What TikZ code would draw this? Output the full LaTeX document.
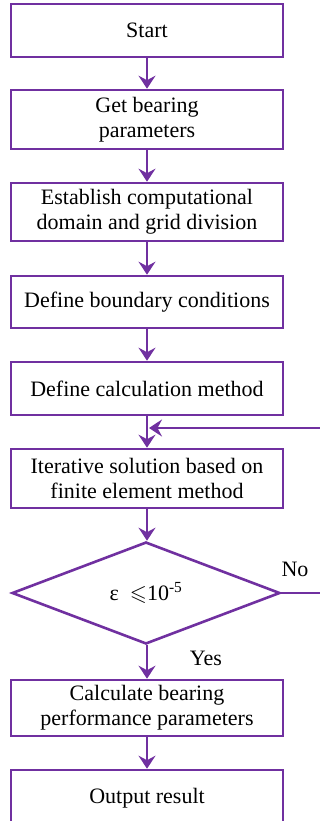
\documentclass[tikz,border=0pt]{standalone}
\usepackage{fontspec}
\setmainfont{Liberation Serif}
\usepackage{amssymb}
\usetikzlibrary{shapes.geometric,arrows.meta}
\definecolor{fpurple}{HTML}{7030A0}
\tikzset{
  box/.style={draw=fpurple, line width=2.6pt, rectangle, minimum width=272pt, inner sep=0pt, align=center, text=black, font=\fontsize{22}{25}\selectfont},
  dec/.style={draw=fpurple, line width=2.6pt, diamond, minimum width=268pt, minimum height=102pt, inner sep=0pt, aspect=2.6, font=\fontsize{22}{25}\selectfont},
  flow/.style={draw=fpurple, line width=2.6pt, -{Stealth[length=13pt, width=17pt, inset=4.5pt]}},
  lbl/.style={font=\fontsize{22}{25}\selectfont, inner sep=0pt}
}
\begin{document}
\begin{tikzpicture}[x=1pt, y=-1pt]
\useasboundingbox (0,0) rectangle (320,821);
\node[box, minimum height=53pt] (n1) at (147,30.5) {Start};
\node[box, minimum height=59pt] (n2) at (147,119.5) {Get bearing\\parameters};
\node[box, minimum height=58pt] (n3) at (147,212) {Establish computational\\domain and grid division};
\node[box, minimum height=52pt] (n4) at (147,302) {Define boundary conditions};
\node[box, minimum height=53pt] (n5) at (147,388.5) {Define calculation method};
\node[box, minimum height=59pt] (n6) at (147,478.5) {Iterative solution based on\\finite element method};
\node[dec] (d) at (146,593) {ε\enspace$\leqslant$10\textsuperscript{-5}};
\node[box, minimum height=56pt] (n7) at (147,708) {Calculate bearing\\performance parameters};
\node[box, minimum height=56pt] (n8) at (147,798) {Output result};
\node[lbl] (no) at (295,569) {No};
\node[lbl] (yes) at (206,658) {Yes};
\coordinate (fb) at (149,428);
\coordinate (rc) at (323,593);
\draw[flow] (n1) -- (n2);
\draw[flow] (n2) -- (n3);
\draw[flow] (n3) -- (n4);
\draw[flow] (n4) -- (n5);
\draw[flow] (n5) -- (n6);
\draw[flow] (n6) -- (d.north -| n6.south);
\draw[flow] (d.south -| n7.north) -- (n7);
\draw[flow] (n7) -- (n8);
\draw[flow] (d.east) -- (rc) |- (fb);
\end{tikzpicture}
\end{document}
